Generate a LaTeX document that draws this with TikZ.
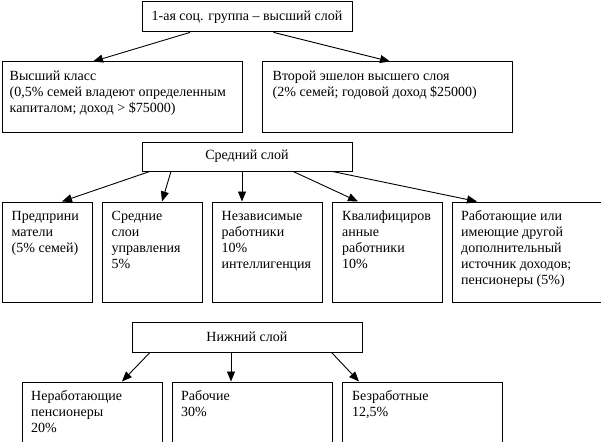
\documentclass[tikz,border=0pt]{standalone}
\usepackage{fontspec}
\setmainfont{Liberation Serif}
\usetikzlibrary{arrows.meta}
\begin{document}
\begin{tikzpicture}[x=1pt,y=-1pt,
  box/.style={draw, line width=0.9pt, inner sep=0pt, anchor=north west},
  head/.style={box, font=\fontsize{14}{16}\selectfont},
  txt/.style={anchor=north west, inner sep=0pt, align=left, font=\fontsize{14}{16}\selectfont},
  arr/.style={line width=0.9pt, -{Triangle[length=10pt,width=8pt]}}]
\useasboundingbox (0,0) rectangle (601,441);
\clip (0,0) rectangle (601,441);
% level 1
\node[head, minimum width=210pt, minimum height=30pt] (T) at (141.5,1.5) {1-ая соц. группа – высший слой};
\node[box, minimum width=240pt, minimum height=70pt] (A) at (1.5,61.5) {};
\node[box, minimum width=250pt, minimum height=70pt] (B) at (261.5,61.5) {};
\node[txt] (At) at (9.5,68.5) {\rule{0pt}{11.5pt}Высший класс\\(0,5\% семей владеют определенным\\капиталом; доход > \$75000)};
\node[txt] (Bt) at (272.5,68.5) {\rule{0pt}{11.5pt}Второй эшелон высшего слоя\\(2\% семей; годовой доход \$25000)};
\draw[arr] ([xshift=48.5pt]T.south west) -- ([xshift=91.5pt]A.north west);
\draw[arr] ([xshift=132pt]T.south west) -- ([xshift=128.5pt]B.north west);
% level 2
\node[head, minimum width=210pt, minimum height=29pt] (M) at (141.5,141.5) {Средний слой};
\node[box, minimum width=90pt, minimum height=100pt] (C1) at (1.5,201.5) {};
\node[box, minimum width=100pt, minimum height=100pt] (C2) at (101.5,201.5) {};
\node[box, minimum width=110pt, minimum height=100pt] (C3) at (211.5,201.5) {};
\node[box, minimum width=110pt, minimum height=100pt] (C4) at (331.5,201.5) {};
\node[box, minimum width=149pt, minimum height=100pt] (C5) at (451.5,201.5) {};
\node[txt] (C1t) at (11.5,208.5) {\rule{0pt}{11.5pt}Предприни\\матели\\(5\% семей)};
\node[txt] (C2t) at (111.5,208.5) {\rule{0pt}{11.5pt}Средние\\слои\\управления\\5\%};
\node[txt] (C3t) at (221.5,208.5) {\rule{0pt}{11.5pt}Независимые\\работники\\10\%\\интеллигенция};
\node[txt] (C4t) at (342,208.5) {\rule{0pt}{11.5pt}Квалифициров\\анные\\работники\\10\%};
\node[txt] (C5t) at (461,208.5) {\rule{0pt}{11.5pt}Работающие или\\имеющие другой\\дополнительный\\источник доходов;\\пенсионеры (5\%)};
\draw[arr] ([xshift=8.5pt]M.south west) -- ([xshift=60.5pt]C1.north west);
\draw[arr] ([xshift=29.5pt]M.south west) -- ([xshift=60.5pt]C2.north west);
\draw[arr] ([xshift=100.5pt]M.south west) -- ([xshift=30.5pt]C3.north west);
\draw[arr] ([xshift=151.5pt]M.south west) -- ([xshift=26.5pt]C4.north west);
\draw[arr] ([xshift=190.5pt]M.south west) -- ([xshift=25.5pt]C5.north west);
% level 3
\node[head, minimum width=230pt, minimum height=30pt] (N) at (131.5,321.5) {Нижний слой};
\node[box, minimum width=140pt, minimum height=80pt] (D1) at (21.5,381.5) {};
\node[box, minimum width=160pt, minimum height=80pt] (D2) at (171.5,381.5) {};
\node[box, minimum width=160pt, minimum height=80pt] (D3) at (341.5,381.5) {};
\node[txt] (D1t) at (31,388.5) {\rule{0pt}{11.5pt}Неработающие\\пенсионеры\\20\%};
\node[txt] (D2t) at (181,388.5) {\rule{0pt}{11.5pt}Рабочие\\30\%};
\node[txt] (D3t) at (352,388.5) {\rule{0pt}{11.5pt}Безработные\\12,5\%};
\draw[arr] ([xshift=18.5pt]N.south west) -- ([xshift=100.5pt]D1.north west);
\draw[arr] ([xshift=99.5pt]N.south west) -- ([xshift=59.5pt]D2.north west);
\draw[arr] ([xshift=200pt]N.south west) -- ([xshift=17.5pt]D3.north west);
\end{tikzpicture}
\end{document}
